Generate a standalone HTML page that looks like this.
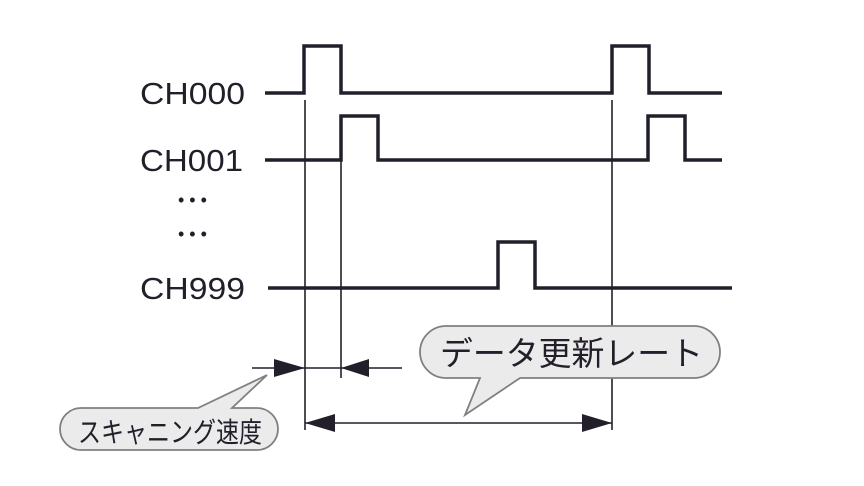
<!DOCTYPE html>
<html><head><meta charset="utf-8"><style>
html,body{margin:0;padding:0;background:#fff;}
svg{display:block;}
text{font-family:"Liberation Sans","Noto Sans CJK JP",sans-serif;fill:#231f2a;}
</style></head><body>
<svg width="864" height="486" viewBox="0 0 864 486" xmlns="http://www.w3.org/2000/svg">
<g fill="none" stroke="#231f2a" stroke-width="3.5" stroke-linejoin="miter">
<polyline points="265,93 304,93 304,46 341,46 341,93 612,93 612,46 649,46 649,93 722,93"/>
<polyline points="265,160 341,160 341,116 378,116 378,160 648,160 648,116 685,116 685,160 722,160"/>
<polyline points="268,288 498,288 498,242 535,242 535,288 732,288"/>
</g>
<g stroke="#231f2a" stroke-width="1.6">
<line x1="305" y1="100" x2="305" y2="430"/>
<line x1="341" y1="120" x2="341" y2="378"/>
<line x1="612" y1="100" x2="612" y2="430"/>
<line x1="252" y1="368" x2="402" y2="368"/>
<line x1="305" y1="423" x2="612" y2="423"/>
</g>
<g fill="#231f2a">
<polygon points="305,368 274,359 274,377"/>
<polygon points="341,368 369,359 369,377"/>
<polygon points="305,423 335,414 335,432"/>
<polygon points="612,423 582,414 582,432"/>
</g>
<text x="140" y="104" font-size="31" textLength="105" lengthAdjust="spacingAndGlyphs">CH000</text>
<text x="140" y="171" font-size="31" textLength="103" lengthAdjust="spacingAndGlyphs">CH001</text>
<text x="140" y="299" font-size="31" textLength="105" lengthAdjust="spacingAndGlyphs">CH999</text>
<text x="178" y="206" font-size="18">• • •</text>
<text x="178" y="240" font-size="18">• • •</text>
<path d="M446,326 H694 A26,26 0 0 1 694,378 H520 L465,415 L480,378 H446 A26,26 0 0 1 446,326 Z" fill="#ebebeb" stroke="#808080" stroke-width="1.8"/>
<text x="440" y="365" font-size="33" textLength="263" lengthAdjust="spacingAndGlyphs">データ更新レート</text>
<path d="M81,408 H198 L267,375 L232,408 H257 A21,21 0 0 1 257,450 H81 A21,21 0 0 1 81,408 Z" fill="#ebebeb" stroke="#808080" stroke-width="1.8"/>
<text x="78" y="442" font-size="28" textLength="184" lengthAdjust="spacingAndGlyphs">スキャニング速度</text>
</svg>
</body></html>
